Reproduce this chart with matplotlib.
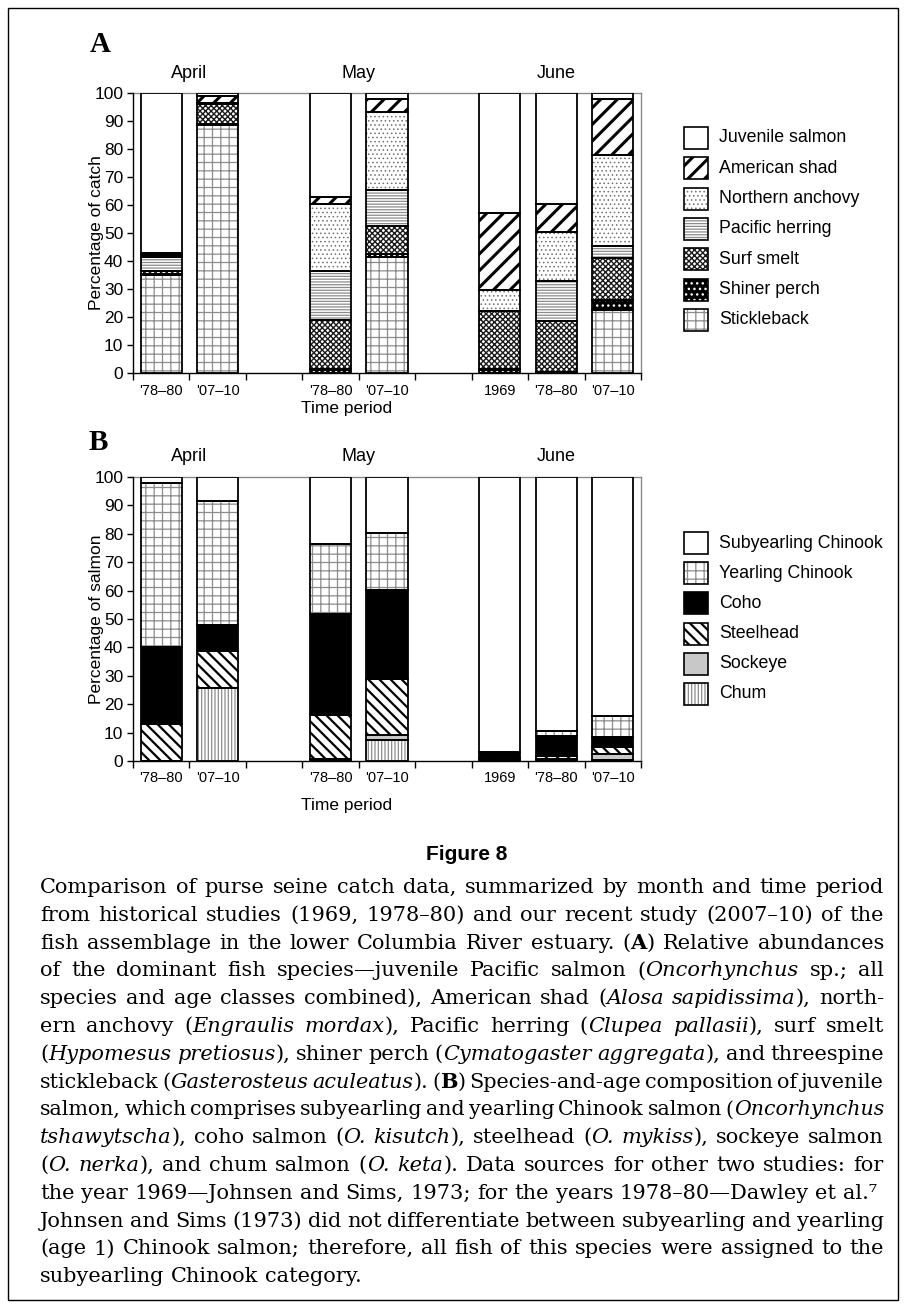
import matplotlib
matplotlib.use("Agg")
import matplotlib.pyplot as plt
from matplotlib.patches import Rectangle
import matplotlib.transforms as mtransforms
import numpy as np

W, H, DPI = 906, 1310, 100

# ---- data -------------------------------------------------------------
positions = [0, 1, 3, 4, 6, 7, 8]          # slots 2 and 5 are empty gaps
period_labels = ["'78–80", "'07–10", "'78–80", "'07–10", "1969", "'78–80", "'07–10"]
months = ["April", "May", "June"]
month_centers = [0.5, 3.5, 7.0]

# panel A, percentage of catch (stacked bottom -> top)
stickleback      = [35.0, 88.4,  0.0, 41.4,  0.0,  0.0, 22.4]
shiner_perch     = [ 0.5,  0.4,  1.5,  1.1,  1.5,  0.3,  3.8]
surf_smelt       = [ 0.8,  7.2, 17.5,  9.9, 20.5, 18.3, 15.0]
pacific_herring  = [ 5.2,  0.3, 17.3, 13.1,  0.0, 14.3,  4.0]
northern_anchovy = [ 0.5,  0.3, 23.9, 27.7,  7.8, 17.5, 32.5]
american_shad    = [ 1.0,  2.2,  2.7,  4.6, 27.5,  9.8, 20.3]
juvenile_salmon  = [57.0,  1.2, 37.1,  2.2, 42.7, 39.8,  2.0]

# panel B, percentage of salmon (stacked bottom -> top)
chum        = [ 0.0, 25.8,  0.0,  7.3,  0.0,  0.0,  0.3]
sockeye     = [ 0.0,  0.0,  0.8,  2.0,  0.3,  0.8,  2.2]
steelhead   = [13.0, 13.1, 15.5, 19.6,  0.7,  1.0,  2.5]
coho        = [27.0,  9.1, 35.5, 31.3,  2.0,  6.9,  3.5]
yearling    = [58.0, 43.5, 24.6, 20.0,  0.0,  2.0,  7.3]
subyearling = [ 2.0,  8.5, 23.6, 19.8, 97.0, 89.3, 84.2]

names_a = ["Stickleback", "Shiner perch", "Surf smelt", "Pacific herring",
           "Northern anchovy", "American shad", "Juvenile salmon"]
series_a = [stickleback, shiner_perch, surf_smelt, pacific_herring,
            northern_anchovy, american_shad, juvenile_salmon]
names_b = ["Chum", "Sockeye", "Steelhead", "Coho", "Yearling Chinook", "Subyearling Chinook"]
series_b = [chum, sockeye, steelhead, coho, yearling, subyearling]

GRAY = "#8c8c8c"
styles = {
    "Juvenile salmon":  dict(face="white", hatch=None, hc="black", hlw=1.0),
    "American shad":    dict(face="white", hatch="//", hc="black", hlw=2.2),
    "Northern anchovy": dict(face="white", hatch="....", hc="#707070", hlw=0.6),
    "Pacific herring":  dict(face="white", hatch="------", hc=GRAY, hlw=0.9),
    "Surf smelt":       dict(face="white", hatch="xxxxxx", hc="#1a1a1a", hlw=1.0),
    "Shiner perch":     dict(face="black", hatch="...", hc="white", hlw=1.0),
    "Stickleback":      dict(face="white", hatch="++", hc=GRAY, hlw=0.9),
    "Subyearling Chinook": dict(face="white", hatch=None, hc="black", hlw=1.0),
    "Yearling Chinook": dict(face="white", hatch="++", hc=GRAY, hlw=0.9),
    "Coho":             dict(face="black", hatch=None, hc="black", hlw=1.0),
    "Steelhead":        dict(face="white", hatch="\\\\\\", hc="black", hlw=1.6),
    "Sockeye":          dict(face="#c8c8c8", hatch=None, hc="#c8c8c8", hlw=1.0),
    "Chum":             dict(face="white", hatch="|||||", hc=GRAY, hlw=0.9),
}

caption = [
    "Comparison of purse seine catch data, summarized by month and time period",
    "from historical studies (1969, 1978–80) and our recent study (2007–10) of the",
    "fish assemblage in the lower Columbia River estuary. (*A*) Relative abundances",
    "of the dominant fish species—juvenile Pacific salmon (_Oncorhynchus_ sp.; all",
    "species and age classes combined), American shad (_Alosa sapidissima_), north-",
    "ern anchovy (_Engraulis mordax_), Pacific herring (_Clupea pallasii_), surf smelt",
    "(_Hypomesus pretiosus_), shiner perch (_Cymatogaster aggregata_), and threespine",
    "stickleback (_Gasterosteus aculeatus_). (*B*) Species-and-age composition of juvenile",
    "salmon, which comprises subyearling and yearling Chinook salmon (_Oncorhynchus_",
    "_tshawytscha_), coho salmon (_O. kisutch_), steelhead (_O. mykiss_), sockeye salmon",
    "(_O. nerka_), and chum salmon (_O. keta_). Data sources for other two studies: for",
    "the year 1969—Johnsen and Sims, 1973; for the years 1978–80—Dawley et al.⁷",
    "Johnsen and Sims (1973) did not differentiate between subyearling and yearling",
    "(age 1) Chinook salmon; therefore, all fish of this species were assigned to the",
    "subyearling Chinook category.",
]
ragged = {11, 14}

# ---- figure -----------------------------------------------------------
SANS = ["Liberation Sans", "DejaVu Sans"]
plt.rcParams["font.family"] = SANS

fig = plt.figure(figsize=(W / DPI, H / DPI), dpi=DPI)
lax = fig.add_axes([0, 0, 1, 1])
lax.set_xlim(0, W)
lax.set_ylim(H, 0)
lax.set_axis_off()


def px_axes(left, top, right, bottom):
    return fig.add_axes([left / W, 1 - bottom / H, (right - left) / W, (bottom - top) / H])


def draw_stack(ax, names, series):
    bottom = np.zeros(len(positions))
    for name, vals in zip(names, series):
        vals = np.asarray(vals, dtype=float)
        st = styles[name]
        with plt.rc_context({"hatch.linewidth": st["hlw"]}):
            ax.bar(positions, vals, width=0.73, bottom=bottom, color=st["face"],
                   edgecolor=st["hc"], hatch=st["hatch"], linewidth=0, zorder=2)
        ax.bar(positions, vals, width=0.73, bottom=bottom, fill=False,
               edgecolor="black", linewidth=1.3, zorder=3)
        bottom += vals


def style_axes(ax, ylabel, tick_pad, xlabel_y):
    ax.set_xlim(-0.5, 8.5)
    ax.set_ylim(0, 100)
    ax.set_yticks(range(0, 101, 10))
    ax.set_xticks(positions)
    ax.set_xticklabels(period_labels)
    ax.set_xticks(np.arange(-0.5, 9.0, 1.0), minor=True)
    ax.tick_params(axis="x", which="major", length=0, pad=tick_pad, labelsize=10.5)
    ax.tick_params(axis="x", which="minor", length=5, width=1, direction="out")
    ax.tick_params(axis="y", length=4, width=1, direction="out", labelsize=12.5, pad=3)
    for s in ("left", "bottom"):
        ax.spines[s].set_color("black")
        ax.spines[s].set_linewidth(1)
    for s in ("top", "right"):
        ax.spines[s].set_color("#8a8a8a")
        ax.spines[s].set_linewidth(1)
    ax.spines["top"].set_zorder(1)
    trans = mtransforms.blended_transform_factory(ax.transData, ax.transAxes)
    for m, c in zip(months, month_centers):
        ax.text(c, 1.0 + 20 / 280, m, transform=trans, ha="center", va="center", fontsize=13)
    ax.text(-0.072, 0.5, ylabel, transform=ax.transAxes, rotation=90,
            ha="center", va="center", fontsize=12.5)
    ax.text(0.421, xlabel_y, "Time period", transform=ax.transAxes,
            ha="center", va="center", fontsize=12.5)


ax_a = px_axes(133, 93, 641, 373)
draw_stack(ax_a, names_a, series_a)
style_axes(ax_a, "Percentage of catch", 8, -0.125)

ax_b = px_axes(133, 477, 641, 761)
draw_stack(ax_b, names_b, series_b)
style_axes(ax_b, "Percentage of salmon", 7, -0.155)

# panel letters
lax.text(100, 45, "A", ha="center", va="center", fontsize=21, fontweight="bold",
         family=["Liberation Serif", "DejaVu Serif"])
lax.text(98, 443, "B", ha="center", va="center", fontsize=21, fontweight="bold",
         family=["Liberation Serif", "DejaVu Serif"])


def legend(names, y0, step):
    for i, name in enumerate(names):
        st = styles[name]
        y = y0 + step * i
        with plt.rc_context({"hatch.linewidth": st["hlw"]}):
            lax.add_patch(Rectangle((684, y - 11), 24, 22, facecolor=st["face"],
                                    edgecolor=st["hc"], hatch=st["hatch"], linewidth=0))
        lax.add_patch(Rectangle((684, y - 11), 24, 22, fill=False, edgecolor="black",
                                linewidth=1.2))
        lax.text(719, y, name, ha="left", va="center", fontsize=12.8)


legend(names_a[::-1], 138, 30.3)
legend(names_b[::-1], 543, 30.2)

# border
lax.add_patch(Rectangle((8, 8), 890, 1292, fill=False, edgecolor="black", linewidth=1))

# caption
lax.text(467, 855, "Figure 8", ha="center", va="center", fontsize=15, fontweight="bold")

renderer = fig.canvas.get_renderer()
CAP = ["DejaVu Serif"]


def parse(line):
    words, ital, bold = [], False, False
    for raw in line.split(" "):
        parts, buf = [], ""
        for ch in raw:
            if ch in "_*":
                if buf:
                    parts.append((buf, ital, bold))
                    buf = ""
                if ch == "_":
                    ital = not ital
                else:
                    bold = not bold
            else:
                buf += ch
        if buf:
            parts.append((buf, ital, bold))
        words.append(parts)
    return words


def width(s, size, ital=False, bold=False):
    t = lax.text(0, 0, s, fontsize=size, family=CAP,
                 fontstyle="italic" if ital else "normal",
                 fontweight="bold" if bold else "normal")
    w = t.get_window_extent(renderer).width
    t.remove()
    return w


parsed = [parse(l) for l in caption]
x0, x1 = 40, 884
ref = 10.0
sp_ref = width("n n", ref) - width("nn", ref)
word_tot = [sum(width(p[0], ref, p[1], p[2]) for w in words for p in w) for words in parsed]
natural = [t + sp_ref * (len(wd) - 1) for t, wd in zip(word_tot, parsed)]
just = [i for i in range(len(parsed)) if i not in ragged]
base = ref * (x1 - x0) / np.median([natural[i] for i in just]) * 0.985

for i, words in enumerate(parsed):
    size = base
    if i not in ragged:
        tight = word_tot[i] + 0.55 * sp_ref * (len(words) - 1)
        size = min(base, ref * (x1 - x0) / tight)
    space = width("n n", size) - width("nn", size)
    wl = [[width(p[0], size, p[1], p[2]) for p in w] for w in words]
    tot = sum(sum(w) for w in wl)
    gap = space if i in ragged else (x1 - x0 - tot) / (len(words) - 1)
    x = x0
    yb = 893 + 27.8 * i
    for w, ws in zip(words, wl):
        for p, pw in zip(w, ws):
            lax.text(x, yb, p[0], ha="left", va="baseline", fontsize=size, family=CAP,
                     fontstyle="italic" if p[1] else "normal",
                     fontweight="bold" if p[2] else "normal")
            x += pw
        x += gap

fig.savefig("out.png", dpi=DPI)
